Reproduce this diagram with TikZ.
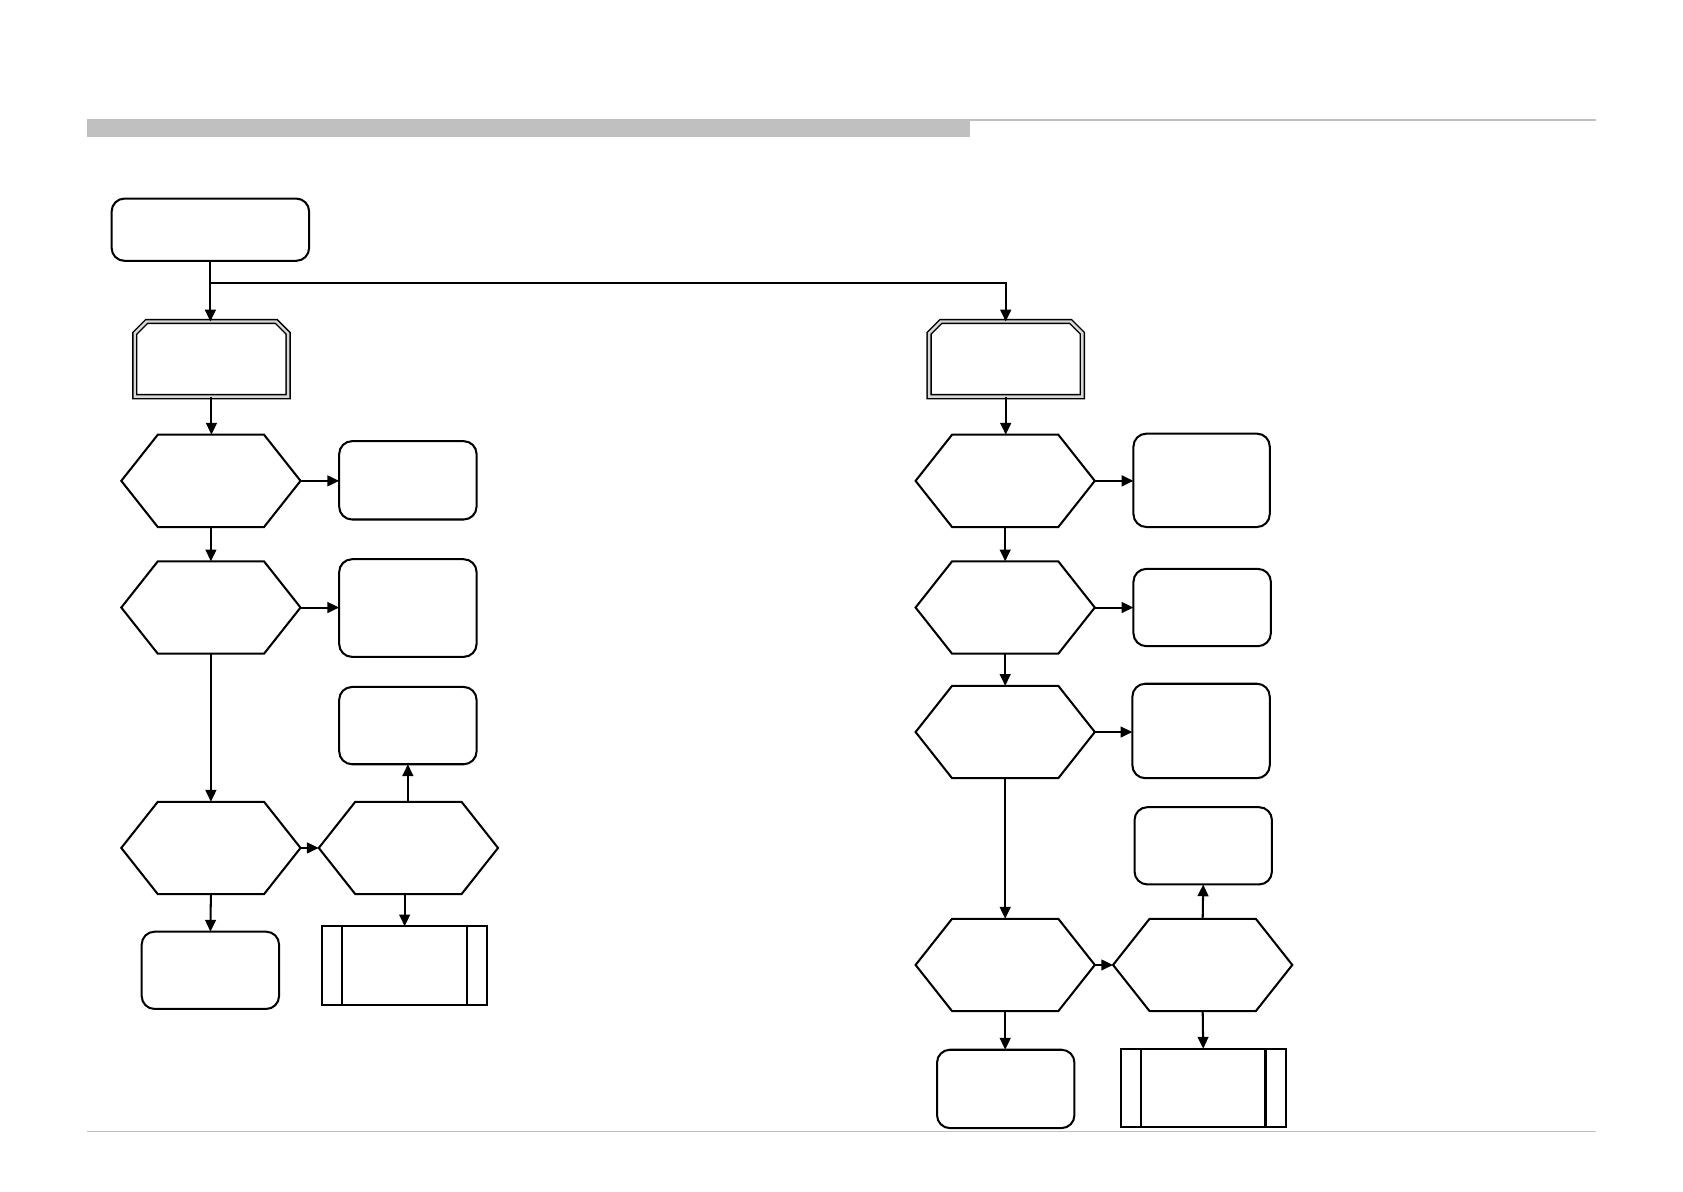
\documentclass[tikz,border=0pt]{standalone}
\usetikzlibrary{arrows.meta,calc}
\definecolor{barg}{RGB}{192,192,192}
\begin{document}
\begin{tikzpicture}[x=0.5pt,y=-0.5pt,
  ln/.style={line width=0.95pt,black},
  arr/.style={ln,-{Triangle[length=5.5pt,width=5pt]}},
  rbox/.style={draw,ln,rounded corners=6pt,inner sep=0pt,outer sep=0pt},
  hexbox/.style={inner sep=0pt,outer sep=0pt,minimum width=83.5pt,minimum height=43pt},
  dblbox/.style={inner sep=0pt,outer sep=0pt,minimum width=71.4pt,minimum height=35pt},
  pbox/.style={draw,ln,inner sep=0pt,outer sep=0pt,minimum width=77pt,minimum height=36.5pt},
  hexline/.style={ln,line join=miter},
  dblline/.style={draw=black,line width=0.7pt,double=barg!60,double distance=1.1pt,line join=miter}
]
\newcommand\drawhex[1]{\draw[hexline] (#1.west) -- ([xshift=17pt]#1.north west) -- ([xshift=-17pt]#1.north east) -- (#1.east) -- ([xshift=-17pt]#1.south east) -- ([xshift=17pt]#1.south west) -- cycle;}
\newcommand\drawdbl[1]{\draw[dblline] (#1.south west) -- ([yshift=-5.5pt]#1.north west) -- ([xshift=5.5pt]#1.north west) -- ([xshift=-5.5pt]#1.north east) -- ([yshift=-5.5pt]#1.north east) -- (#1.south east) -- cycle;}
\newcommand\drawproc[1]{\draw[ln] ([xshift=9.5pt]#1.north west) -- ([xshift=9.5pt]#1.south west); \draw[ln] ([xshift=-9.5pt]#1.north east) -- ([xshift=-9.5pt]#1.south east);}
\useasboundingbox (0,0) rectangle (1568,1110);
% header / footer
\fill[barg] (81,111) rectangle (904,128);
\draw[barg,line width=1pt] (904,111.5) -- (1487,111.5);
\draw[barg,line width=0.5pt] (81,1054) -- (1487,1054);
% start
\node[rbox,minimum width=92pt,minimum height=29pt] (start) at (196,214) {};
% left column
\node[dblbox] (dL) at (197,334.5) {}; \drawdbl{dL}
\node[hexbox] (hL1) at (196.5,448) {}; \drawhex{hL1}
\node[hexbox] (hL2) at (196.5,566) {}; \drawhex{hL2}
\node[hexbox] (hL3) at (196.5,790) {}; \drawhex{hL3}
\node[hexbox] (hL4) at (380.5,790) {}; \drawhex{hL4}
\node[rbox,minimum width=64pt,minimum height=36.5pt] (bL1) at (380,447.5) {};
\node[rbox,minimum width=64pt,minimum height=45.5pt] (bL2) at (380,566.5) {};
\node[rbox,minimum width=64pt,minimum height=36pt] (bL3) at (380,676) {};
\node[rbox,minimum width=64pt,minimum height=36pt] (bL4) at (196,904) {};
\node[pbox] (pL) at (377,899.5) {}; \drawproc{pL}
% right column
\node[dblbox] (dR) at (937,334.5) {}; \drawdbl{dR}
\node[hexbox] (hR1) at (936.5,448) {}; \drawhex{hR1}
\node[hexbox] (hR2) at (936.5,566) {}; \drawhex{hR2}
\node[hexbox] (hR3) at (936.5,682) {}; \drawhex{hR3}
\node[hexbox] (hR4) at (936.5,899) {}; \drawhex{hR4}
\node[hexbox] (hR5) at (1120.5,899) {}; \drawhex{hR5}
\node[rbox,minimum width=63.5pt,minimum height=43.5pt] (bR1) at (1119.5,447.5) {};
\node[rbox,minimum width=64pt,minimum height=36pt] (bR2) at (1120,566) {};
\node[rbox,minimum width=64pt,minimum height=44pt] (bR3) at (1119,681) {};
\node[rbox,minimum width=64pt,minimum height=36pt] (bR4) at (1121,788) {};
\node[rbox,minimum width=64pt,minimum height=36.5pt] (bR5) at (937,1014.5) {};
\node[pbox] (pR) at (1121,1013.5) {}; \drawproc{pR}
% connectors
\coordinate (jy) at (0,264);
\draw[arr] (start.south) -- (start.south |- dL.north);
\draw[arr] (start.south |- jy) -| (dR.north);
\draw[arr] (dL.south) -- (dL.south |- hL1.north);
\draw[arr] (hL1.east) -- (bL1.west |- hL1.east);
\draw[arr] (hL1.south) -- (hL2.north);
\draw[arr] (hL2.east) -- (bL2.west |- hL2.east);
\draw[arr] (hL2.south) -- (hL3.north);
\draw[arr] (hL3.east) -- (hL4.west);
\draw[arr] (hL4.north -| bL3.south) -- (bL3.south);
\draw[arr] (hL3.south) -- (bL4.north);
\draw[arr] (hL4.south -| pL.north) -- (pL.north);
\draw[arr] (dR.south) -- (dR.south |- hR1.north);
\draw[arr] (hR1.east) -- (bR1.west |- hR1.east);
\draw[arr] (hR1.south) -- (hR2.north);
\draw[arr] (hR2.east) -- (bR2.west |- hR2.east);
\draw[arr] (hR2.south) -- (hR3.north);
\draw[arr] (hR3.east) -- (bR3.west |- hR3.east);
\draw[arr] (hR3.south) -- (hR4.north);
\draw[arr] (hR4.east) -- (hR5.west);
\draw[arr] (hR5.north) -- (bR4.south);
\draw[arr] (hR4.south) -- (hR4.south |- bR5.north);
\draw[arr] (hR5.south) -- (pR.north);
\end{tikzpicture}
\end{document}
